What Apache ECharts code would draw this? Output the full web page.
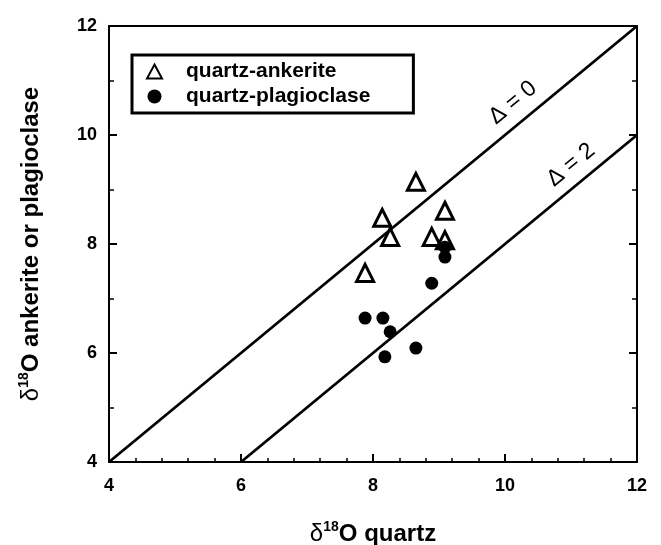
<!DOCTYPE html>
<html>
<head>
<meta charset="utf-8">
<script src="https://cdn.jsdelivr.net/npm/echarts@6/dist/echarts.min.js"></script>
<style>html,body{margin:0;padding:0;background:#fff;}#c{width:661px;height:545px;}</style>
</head>
<body>
<div id="c"></div>
<script>
const ankeriteX = [7.88, 8.14, 8.26, 8.65, 8.89, 9.09, 9.09];
const ankeriteY = [7.47, 8.48, 8.13, 9.14, 8.13, 8.61, 8.07];
const plagX = [7.88, 8.15, 8.26, 8.18, 8.65, 8.89, 9.09, 9.09];
const plagY = [6.64, 6.64, 6.39, 5.93, 6.09, 7.28, 7.76, 7.94];
const delta0X = [4, 12], delta0Y = [4, 12];
const delta2X = [6, 12], delta2Y = [4, 10];
const delta0Label = {text: 'Δ = 0', x: 10.12, y: 10.59};
const delta2Label = {text: 'Δ = 2', x: 11.0, y: 9.45};
const axisMin = 4, axisMax = 12, axisStep = 2;

const zip = (a, b) => a.map((v, i) => [v, b[i]]);
const FONT = '"Liberation Sans", Arial, Helvetica, sans-serif';
const chart = echarts.init(document.getElementById('c'));
const axisLineStyle = {color: '#000', width: 2};
const labelStyle = {color: '#000', fontSize: 18, fontWeight: 'bold', fontFamily: FONT};
const rotAngle = Math.atan(54.5 / 66) * 180 / Math.PI;
const titleRich = {
  d: {fontSize: 24, fontWeight: 'bold', fontFamily: FONT, color: '#000', verticalAlign: 'bottom', lineHeight: 26},
  g: {fontSize: 24, fontWeight: 'normal', fontFamily: FONT, color: '#000', verticalAlign: 'bottom', lineHeight: 26},
  s: {fontSize: 14, fontWeight: 'bold', fontFamily: FONT, color: '#000', verticalAlign: 'top', lineHeight: 14, padding: [0, 0, 12, 0]}
};

chart.setOption({
  animation: false,
  backgroundColor: '#fff',
  grid: {left: 109, right: 24, top: 26, bottom: 83, outerBoundsMode: 'none', containLabel: false},
  legend: {
    orient: 'vertical', left: 132, top: 55,
    padding: [6, 43, 6, 14],
    borderColor: '#000', borderWidth: 3,
    itemWidth: 15, itemHeight: 14, itemGap: 4,
    textStyle: {color: '#000', fontSize: 21, fontWeight: 'bold', fontFamily: FONT, padding: [0, 0, 0, 19]},
    data: ['quartz-ankerite', 'quartz-plagioclase']
  },
  xAxis: [{
    type: 'value', min: axisMin, max: axisMax, interval: axisStep, position: 'bottom',
    name: '{g|δ}{s|18}{d|O quartz}', nameLocation: 'middle', nameGap: 58,
    nameTextStyle: {rich: titleRich},
    axisLine: {lineStyle: axisLineStyle},
    axisTick: {inside: true, length: 8, lineStyle: {color: '#000', width: 2}},
    minorTick: {show: true, splitNumber: 5, length: 4, lineStyle: {color: '#000', width: 1.5}},
    axisLabel: Object.assign({margin: 15}, labelStyle),
    splitLine: {show: false}
  }, {
    type: 'value', min: axisMin, max: axisMax, interval: axisStep, position: 'top',
    axisLine: {lineStyle: axisLineStyle}, axisTick: {show: false}, axisLabel: {show: false}, splitLine: {show: false}
  }],
  yAxis: [{
    type: 'value', min: axisMin, max: axisMax, interval: axisStep, position: 'left',
    name: '{g|δ}{s|18}{d|O ankerite or plagioclase}', nameLocation: 'middle', nameGap: 66,
    nameTextStyle: {rich: titleRich},
    axisLine: {lineStyle: axisLineStyle},
    axisTick: {inside: true, length: 8, lineStyle: {color: '#000', width: 2}},
    minorTick: {show: true, splitNumber: 2, length: 5, lineStyle: {color: '#000', width: 1.5}},
    axisLabel: Object.assign({margin: 12}, labelStyle),
    splitLine: {show: false}
  }, {
    type: 'value', min: axisMin, max: axisMax, interval: axisStep, position: 'right',
    axisLine: {lineStyle: axisLineStyle},
    axisTick: {inside: true, length: 8, lineStyle: {color: '#000', width: 2}},
    minorTick: {show: true, splitNumber: 2, length: 5, lineStyle: {color: '#000', width: 1.5}},
    axisLabel: {show: false}, splitLine: {show: false}
  }],
  series: [
    {
      type: 'line', data: zip(delta0X, delta0Y), showSymbol: false, silent: true,
      lineStyle: {color: '#000', width: 2.8},
      markPoint: {symbol: 'circle', symbolSize: 0, data: [{coord: [delta0Label.x, delta0Label.y], value: delta0Label.text}],
        label: {show: true, formatter: delta0Label.text, rotate: rotAngle, color: '#000', fontSize: 23, fontFamily: FONT, position: 'inside'}}
    },
    {
      type: 'line', data: zip(delta2X, delta2Y), showSymbol: false, silent: true,
      lineStyle: {color: '#000', width: 2.8},
      markPoint: {symbol: 'circle', symbolSize: 0, data: [{coord: [delta2Label.x, delta2Label.y], value: delta2Label.text}],
        label: {show: true, formatter: delta2Label.text, rotate: rotAngle, color: '#000', fontSize: 23, fontFamily: FONT, position: 'inside'}}
    },
    {
      name: 'quartz-ankerite', type: 'scatter', data: zip(ankeriteX, ankeriteY),
      symbol: 'triangle', symbolSize: 17,
      itemStyle: {color: '#fff', borderColor: '#000', borderWidth: 3, opacity: 1}
    },
    {
      name: 'quartz-plagioclase', type: 'scatter', data: zip(plagX, plagY),
      symbol: 'circle', symbolSize: 13,
      itemStyle: {color: '#000', opacity: 1}
    }
  ]
});
</script>
</body>
</html>
